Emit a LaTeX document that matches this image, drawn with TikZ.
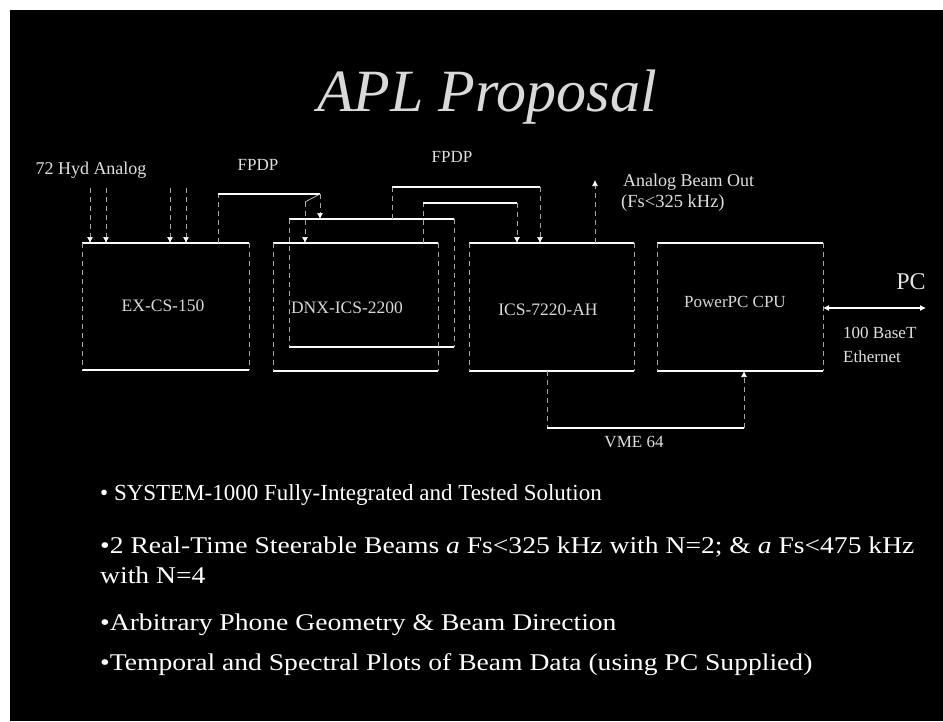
\documentclass[tikz,border=0pt]{standalone}
\usepackage{fontspec}
\usepackage{graphicx}
\setmainfont{Liberation Serif}
\usetikzlibrary{arrows.meta}
\newcommand{\wideline}[1]{\scalebox{1.15}[1]{#1}}
\begin{document}
\begin{tikzpicture}[x=1pt,y=-1pt,
  hl/.style={white, line width=1.1pt},
  vl/.style={white!65!black, line width=0.7pt, dash pattern=on 5pt off 4pt},
  conn/.style={white!80!black, line width=0.7pt},
  tipd/.style={-{Latex[length=6pt,width=6pt,color=white]}},
  boxn/.style={inner sep=0, outer sep=0, minimum width=#1, minimum height=128pt},
  lbl/.style={text=white!85!black, inner sep=0, font=\fontsize{17.5}{19}\selectfont},
  small/.style={text=white!88!black, inner sep=0, font=\fontsize{17}{19}\selectfont},
  bullet/.style={text=white, inner sep=0, anchor=base west, font=\fontsize{#1}{30}\selectfont},
  bullet/.default=24]
\useasboundingbox (0,0) rectangle (943,721);
\fill[white] (0,0) rectangle (943,721);
\fill[black] (10,10) rectangle (943,721);

% title
\node[text=white!85!black, font=\fontsize{60}{64}\selectfont\itshape, inner sep=0] (title) at (487,97) {APL Proposal};

% boxes
\node[boxn=167pt, minimum height=127pt] (b1) at (165.5,306.5) {};
\node[boxn=165pt] (b2b) at (371.5,283) {};
\node[boxn=165pt] (b2) at (355.5,307) {};
\node[boxn=165pt] (b3) at (551.5,307) {};
\node[boxn=166pt] (b4) at (740,307) {};
\foreach \b in {b1,b2b,b2,b3,b4}{
  \draw[hl] (\b.north west) -- (\b.north east);
  \draw[hl] (\b.south west) -- (\b.south east);
  \draw[vl] (\b.north west) -- (\b.south west);
  \draw[vl] (\b.north east) -- (\b.south east);
}
\node[lbl] (t1) at (163,306) {EX-CS-150};
\node[lbl] (t2) at (347,308) {DNX-ICS-2200};
\node[lbl] (t3) at (548,310) {ICS-7220-AH};
\node[lbl, font=\fontsize{17}{19}\selectfont] (t4) at (735,302) {PowerPC CPU};

% analog inputs
\node[small, font=\fontsize{18}{20}\selectfont] (hyd) at (91,170) {72 Hyd Analog};
\foreach \x/\n in {90/i1,106/i2,170/i3,186/i4}{
  \coordinate (\n) at (\x,188);
  \draw[vl,tipd] (\n) -- (\n |- b1.north);
}

% FPDP 1
\node[small] (fp1) at (258,165) {FPDP};
\coordinate (f1) at (218,194);
\coordinate (f2) at (320,194);
\coordinate (f3) at (305,202);
\draw[vl] (f1 |- b1.north) -- (f1);
\draw[hl] (f1) -- (f2);
\draw[conn] (f2) -- (f3);
\draw[vl,tipd] (f2) -- (f2 |- b2b.north);
\draw[vl,tipd] (f3) -- (f3 |- b2.north);

% FPDP 2
\node[small] (fp2) at (452,157) {FPDP};
\coordinate (g1) at (392,187);
\coordinate (g2) at (540,187);
\coordinate (h1) at (423,203);
\coordinate (h2) at (517,203);
\draw[vl] (g1 |- b2b.north) -- (g1);
\draw[hl] (g1) -- (g2);
\draw[vl,tipd] (g2) -- (g2 |- b3.north);
\draw[vl] (h1 |- b2.north) -- (h1);
\draw[hl] (h1) -- (h2);
\draw[vl,tipd] (h2) -- (h2 |- b3.north);

% analog beam out
\coordinate (ab) at (595,180);
\draw[vl,tipd] (ab |- b3.north) -- (ab);
\node[small, font=\fontsize{18}{20}\selectfont, anchor=west] (abo) at (623,182) {Analog Beam Out};
\node[small, font=\fontsize{18.5}{20}\selectfont, anchor=west] (fs) at (621,203) {(Fs<325 kHz)};

% PC link
\coordinate (pc) at (926,308);
\draw[hl,{Latex[length=6pt,width=6pt]}-{Latex[length=6pt,width=6pt]}] (b4.east |- pc) -- (pc);
\node[text=white!90!black, inner sep=0, font=\fontsize{24}{26}\selectfont] (pct) at (911,282) {PC};
\node[small, anchor=west] (bt) at (843,333) {100 BaseT};
\node[small, anchor=west] (eth) at (843,357) {Ethernet};

% VME bus
\coordinate (v1) at (547,428);
\coordinate (v2) at (744,428);
\draw[vl] (v1 |- b3.south) -- (v1);
\draw[hl] (v1) -- (v2);
\draw[vl,tipd] (v2) -- (v2 |- b4.south);
\node[small] (vme) at (634,442) {VME 64};

% bullets
\node[bullet=23] (l1) at (100,500) {\textbullet\ SYSTEM-1000 Fully-Integrated and Tested Solution};
\node[bullet] (l2) at (100,553) {\wideline{\textbullet2 Real-Time Steerable Beams \textit{a} Fs<325 kHz with N=2; \& \textit{a} Fs<475 kHz}};
\node[bullet] (l2b) at (100,583) {\wideline{with N=4}};
\node[bullet] (l3) at (100,630) {\wideline{\textbullet Arbitrary Phone Geometry \& Beam Direction}};
\node[bullet] (l4) at (100,670) {\wideline{\textbullet Temporal and Spectral Plots of Beam Data (using PC Supplied)}};
\end{tikzpicture}
\end{document}
